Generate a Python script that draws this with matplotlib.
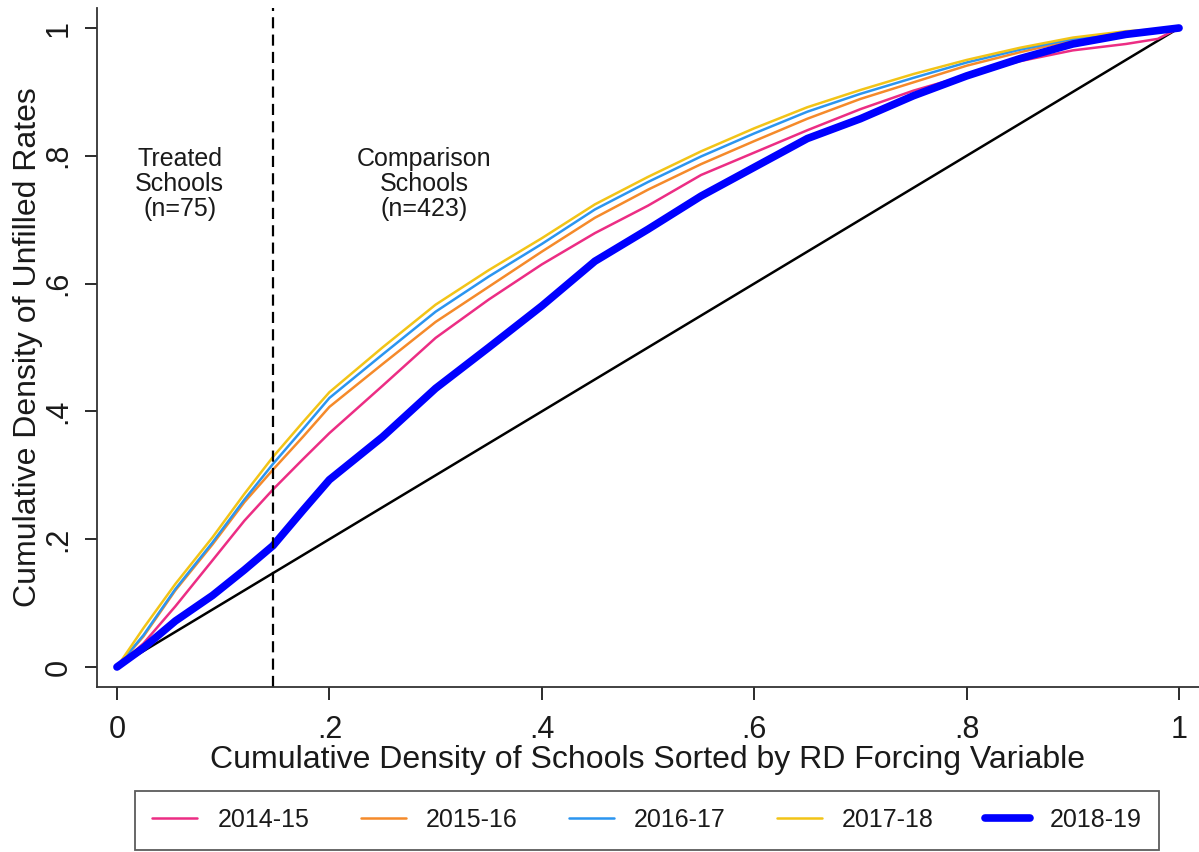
import numpy as np
import matplotlib
matplotlib.use("Agg")
import matplotlib.pyplot as plt

plt.rcParams["font.family"] = ["Liberation Sans", "DejaVu Sans"]

# share of schools (sorted by the RD forcing variable)
share_schools = [0, .025, .055, .09, .12, .147, .175, .2, .25, .3, .35, .4, .45,
                 .5, .55, .6, .65, .7, .75, .8, .85, .9, .95, .98, 1.0]

# cumulative density of unfilled rates, one curve per school year
unfilled_1415 = [0, .037, .095, .167, .229, .278, .325, .366, .44, .515, .575, .630,
                 .679, .722, .770, .805, .840, .873, .902, .926, .948, .965, .975, .983, 1.0]
unfilled_1516 = [0, .048, .12, .192, .258, .309, .36, .407, .474, .54, .595, .65,
                 .703, .747, .787, .823, .858, .889, .915, .941, .962, .981, .993, .997, 1.0]
unfilled_1617 = [0, .050, .122, .195, .262, .318, .372, .421, .489, .556, .611, .662,
                 .716, .759, .799, .835, .869, .897, .922, .946, .966, .983, .994, .998, 1.0]
unfilled_1718 = [0, .061, .13, .203, .271, .329, .383, .43, .50, .567, .621, .671,
                 .724, .767, .807, .843, .876, .903, .928, .950, .969, .985, .995, .998, 1.0]
unfilled_1819 = [0, .03, .072, .112, .152, .19, .245, .293, .36, .436, .50, .565,
                 .635, .685, .737, .782, .827, .858, .894, .925, .952, .975, .99, .996, 1.0]

years = ["2014-15", "2015-16", "2016-17", "2017-18", "2018-19"]
curves = [unfilled_1415, unfilled_1516, unfilled_1617, unfilled_1718, unfilled_1819]
colors = ["#EC2D84", "#F58A2A", "#2B95F0", "#F2C417", "#0000FF"]
widths = [1.8, 1.8, 1.8, 1.8, 5.5]

cutoff = 0.147
n_treated, n_comparison = 75, 423

ink = "#1a1a1a"

fig = plt.figure(figsize=(11.99, 8.52), dpi=100)
ax = fig.add_axes([97 / 1199, 165 / 852, 1102 / 1199, 679 / 852])

for label, y, c, lw in zip(years, curves, colors, widths):
    ax.plot(share_schools, y, color=c, lw=lw, label=label, solid_capstyle="round")

# 45 degree reference line
ax.plot([0, 1], [0, 1], color="black", lw=1.8, zorder=1.5)
ax.axvline(cutoff, color="black", lw=1.6, dashes=(5, 2.8))

ax.text(0.059, 0.756, "Treated\nSchools\n(n=%d)" % n_treated, ha="center", va="center",
        fontsize=18, color=ink, linespacing=1.05)
ax.text(0.289, 0.756, "Comparison\nSchools\n(n=%d)" % n_comparison, ha="center", va="center",
        fontsize=18, color=ink, linespacing=1.05)

ax.set_xlim(-0.0188, 1.0188)
ax.set_ylim(-0.0313, 1.0313)
ticks = [0, .2, .4, .6, .8, 1]
ticklabels = ["0", ".2", ".4", ".6", ".8", "1"]
ax.set_xticks(ticks)
ax.set_xticklabels(ticklabels)
ax.set_yticks(ticks)
ax.set_yticklabels(ticklabels, rotation=90, va="center")
ax.tick_params(length=9, width=1.3, colors=ink, labelsize=22)
ax.tick_params(axis="x", pad=11)
ax.tick_params(axis="y", pad=8)

for s in ["top", "right"]:
    ax.spines[s].set_visible(False)
for s in ["left", "bottom"]:
    ax.spines[s].set_color("#333333")
    ax.spines[s].set_linewidth(1.3)

ax.set_xlabel("Cumulative Density of Schools Sorted by RD Forcing Variable",
              fontsize=23, color=ink, labelpad=0)
ax.set_ylabel("Cumulative Density of Unfilled Rates", fontsize=23, color=ink, labelpad=0)

leg = fig.legend(loc="center", bbox_to_anchor=(647 / 1199, 32 / 852), ncol=5,
                 fontsize=18, frameon=True, fancybox=False, edgecolor="#333333",
                 handlelength=1.8, handletextpad=0.8, columnspacing=2.05,
                 borderpad=0.7)
leg.get_frame().set_linewidth(1.3)
for t in leg.get_texts():
    t.set_color(ink)

fig.savefig("out.png", dpi=100)
